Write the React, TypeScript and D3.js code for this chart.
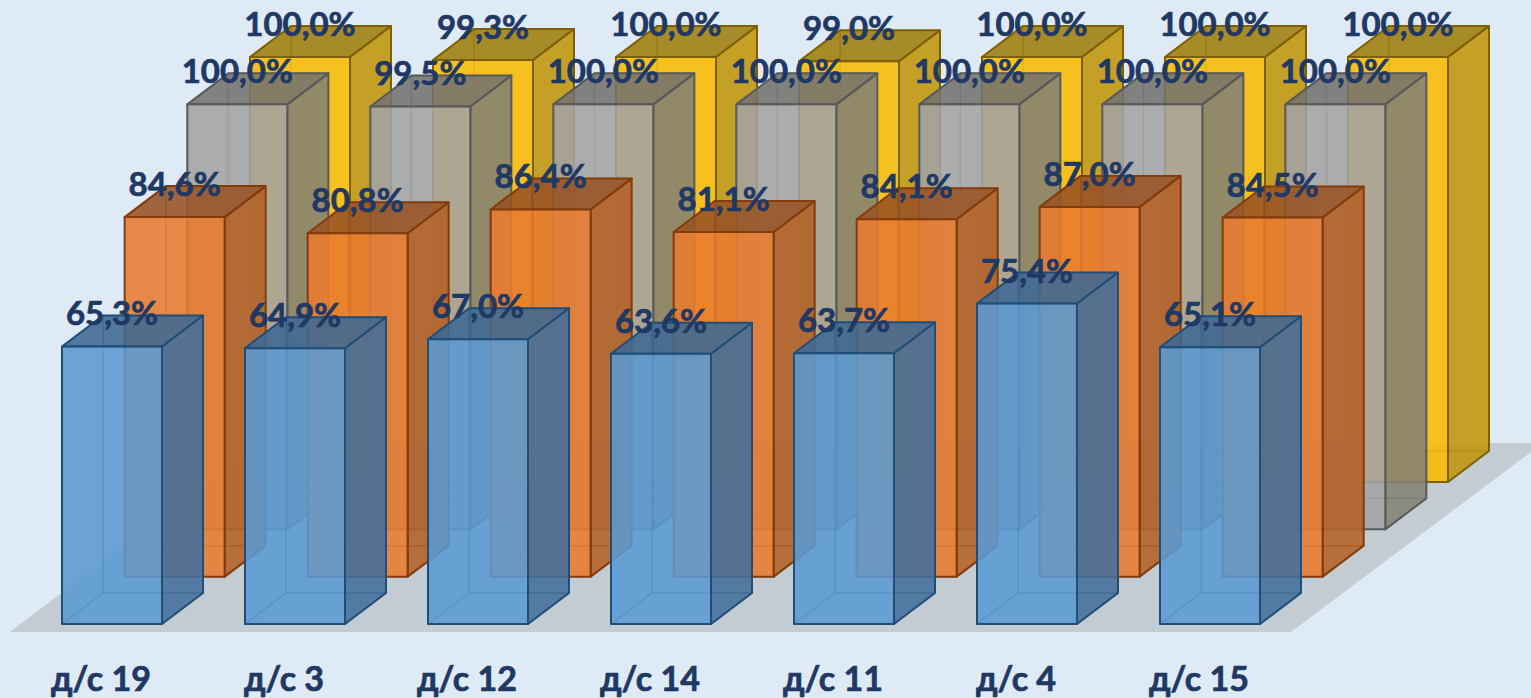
import { useEffect, useRef } from "react";
import * as d3 from "d3";

const categories = ["д/с 19", "д/с 3", "д/с 12", "д/с 14", "д/с 11", "д/с 4", "д/с 15"];
const seriesNames = ["s1", "s2", "s3", "s4"];

const blueValues = [65.3, 64.9, 67.0, 63.6, 63.7, 75.4, 65.1];
const orangeValues = [84.6, 80.8, 86.4, 81.1, 84.1, 87.0, 84.5];
const grayValues = [100, 99.5, 100, 100, 100, 100, 100];
const yellowValues = [100, 99.3, 100, 99.0, 100, 100, 100];

const seriesValues = [blueValues, orangeValues, grayValues, yellowValues];

const palette = [
  { base: "#5a99d2", side: "#3b6088", top: "#34587e", line: "#1f4e79" },
  { base: "#e97b30", side: "#a25722", top: "#7c4520", line: "#843c0c" },
  { base: "#a3a3a3", side: "#7a7664", top: "#64625c", line: "#5a5a5a" },
  { base: "#f9bb00", side: "#ad880c", top: "#7f6810", line: "#7f6000" },
];

const width = 1531;
const height = 698;
const boxDepth = { x: 41, y: -31 };

export default function App() {
  const svgRef = useRef<SVGSVGElement>(null);

  useEffect(() => {
    if (!svgRef.current) return;

    const svg = d3.select(svgRef.current);
    svg.selectAll("*").remove();

    const x = d3
      .scaleBand<string>()
      .domain(categories)
      .range([20.5, 1301.5])
      .paddingInner(83 / 183)
      .paddingOuter(83 / 366);

    const h = d3.scaleLinear().domain([0, 100]).range([0, 425]);
    const depthX = d3.scalePoint<string>().domain(seriesNames).range([0, 188]);
    const baseY = d3.scalePoint<string>().domain(seriesNames).range([624, 482]);

    const poly = d3.line().curve(d3.curveLinearClosed);

    svg.append("rect").attr("width", width).attr("height", height).attr("fill", "#deeaf6");

    // floor
    svg
      .append("path")
      .attr("fill", "#c3ccd3")
      .attr("d", poly([[10, 632], [1291, 632], [1531, 452], [1531, 443], [260, 443]]));

    const labels: { text: string; x: number; y: number }[] = [];

    // back row first, so the front row sits on top
    for (let s = seriesNames.length - 1; s >= 0; s--) {
      const name = seriesNames[s];
      const colors = palette[s];
      const g = svg.append("g");

      const face = (pts: [number, number][], fill: string, back: boolean) =>
        g
          .append("path")
          .attr("d", poly(pts))
          .attr("fill", fill)
          .attr("fill-opacity", 0.65)
          .attr("stroke", colors.line)
          .attr("stroke-opacity", back ? 0.25 : 1)
          .attr("stroke-width", back ? 1.5 : 2)
          .attr("stroke-linejoin", "round");

      categories.forEach((cat, i) => {
        const v = seriesValues[s][i];
        const x0 = x(cat)! + depthX(name)!;
        const x1 = x0 + x.bandwidth();
        const y0 = baseY(name)!;
        const y1 = y0 - h(v);
        const dx = boxDepth.x;
        const dy = boxDepth.y;

        face([[x0 + dx, y1 + dy], [x1 + dx, y1 + dy], [x1 + dx, y0 + dy], [x0 + dx, y0 + dy]], colors.base, true);
        face([[x0, y1], [x0 + dx, y1 + dy], [x0 + dx, y0 + dy], [x0, y0]], colors.base, true);
        face([[x0, y0], [x1, y0], [x1 + dx, y0 + dy], [x0 + dx, y0 + dy]], colors.base, true);
        face([[x1, y1], [x1 + dx, y1 + dy], [x1 + dx, y0 + dy], [x1, y0]], colors.side, false);
        face([[x0, y1], [x1, y1], [x1 + dx, y1 + dy], [x0 + dx, y1 + dy]], colors.top, false);
        face([[x0, y1], [x1, y1], [x1, y0], [x0, y0]], colors.base, false);

        labels.push({
          text: `${v.toFixed(1).replace(".", ",")}%`,
          x: (x0 + x1) / 2,
          y: y1 - 21,
        });
      });
    }

    svg
      .append("g")
      .selectAll("text")
      .data(labels)
      .join("text")
      .attr("x", (d) => d.x)
      .attr("y", (d) => d.y)
      .attr("text-anchor", "middle")
      .attr("font-family", "Lato, 'Open Sans', sans-serif")
      .attr("font-weight", 700)
      .attr("font-size", 33)
      .attr("fill", "#1f3864")
      .attr("stroke", "#1f3864")
      .attr("stroke-width", 0.7)
      .text((d) => d.text);

    svg
      .append("g")
      .selectAll("text")
      .data(categories)
      .join("text")
      .attr("x", (d) => x(d)! + x.bandwidth() / 2 - 11)
      .attr("y", 691)
      .attr("text-anchor", "middle")
      .attr("font-family", "Lato, 'Open Sans', sans-serif")
      .attr("font-weight", 700)
      .attr("font-size", 34)
      .attr("fill", "#1f3864")
      .attr("stroke", "#1f3864")
      .attr("stroke-width", 0.7)
      .text((d) => d);
  }, []);

  return (
    <svg
      ref={svgRef}
      width={width}
      height={height}
      viewBox={`0 0 ${width} ${height}`}
      style={{ position: "absolute", left: 0, top: 0 }}
    />
  );
}
